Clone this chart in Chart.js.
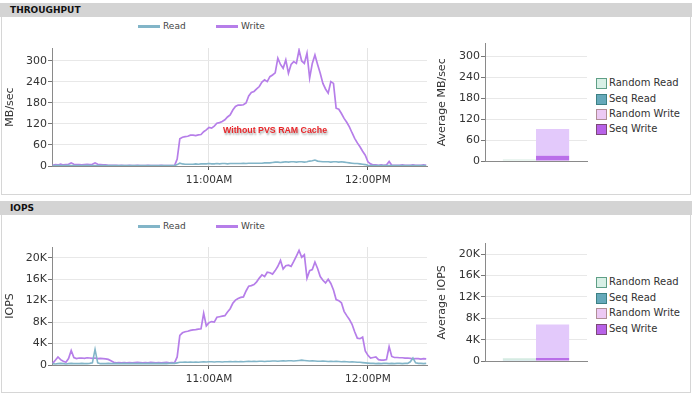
<!DOCTYPE html>
<html>
<head>
<meta charset="utf-8">
<script src="https://cdn.jsdelivr.net/npm/chart.js@4.4.1/dist/chart.umd.min.js"></script>
<style>
  body { margin:0; width:692px; height:399px; position:relative; overflow:hidden; background:#fff; font-family:'DejaVu Sans', sans-serif; }
  .panel { position:absolute; left:1px; width:688px; border:1px solid #d6d6d6; border-top:none; background:#fff; }
  .band { position:absolute; left:0; width:682px; height:14px; padding-left:10px; background:#d4d4d4; font-weight:bold; font-size:9px; line-height:15px; color:#111; }
  canvas { position:absolute; }
  .lg { position:absolute; font-size:9px; color:#444; white-space:nowrap; line-height:10px; }
  .sw { position:absolute; height:3px; width:22px; }
  .bl { position:absolute; font-size:10px; color:#333; white-space:nowrap; line-height:12px; }
  .bx { position:absolute; width:9px; height:9px; border:1px solid; }
  .note { position:absolute; left:223px; top:125px; font-family:'Liberation Sans', sans-serif; font-weight:bold; font-size:8.8px; color:#e8262a; text-shadow:1px 2px 2px rgba(0,0,0,0.35); white-space:nowrap; }
</style>
</head>
<body>
<div class="band" style="top:3px">THROUGHPUT</div>
<div class="panel" style="top:17px;height:177px"></div>
<div class="band" style="top:201px">IOPS</div>
<div class="panel" style="top:215px;height:177px"></div>

<canvas id="tpLine" width="432" height="160" style="left:0;top:36px"></canvas>
<canvas id="tpBar" width="158" height="160" style="left:432px;top:36px"></canvas>
<canvas id="ioLine" width="432" height="160" style="left:0;top:236px"></canvas>
<canvas id="ioBar" width="158" height="160" style="left:432px;top:236px"></canvas>
<div class="note">Without PVS RAM Cache</div>

<script>
// one sample per minute, first sample at 10:01
const firstMinute = 1;
const xMin = 0.75, xMax = 142.3;
const timeTicks = [60, 120];
const timeLabels = ['11:00AM', '12:00PM'];

const tpTicks = [0, 60, 120, 180, 240, 300];
const tpTickLabels = ['0', '60', '120', '180', '240', '300'];
const ioTicks = [0, 4000, 8000, 12000, 16000, 20000];
const ioTickLabels = ['0', '4K', '8K', '12K', '16K', '20K'];

const lineSeries = ['Read', 'Write'];
const lineColors = ['#82b5c8', '#b67ee9'];

const tpRead = [
  1,1,2,1,1,1,2,1,1,1, 1,1,1,2,1,1,1,1,1,1, 1,1,1,1,1,1,1,1,1,1,
  1,1,1,1,1,1,1,1,1,1, 1,1,1,1,1,1,1,
  4,8,6,
  5,5,5,5,6,5,
  6,6,6,7,6,6,7,6,7,7,6,7,7,7,
  7,7,8,7,8,8,8,8,8,8,9,9,9,10,
  11,11,10,11,12,11,12,12,11,12,12,11,
  12,14,15,17,14,13,12,12,
  12,11,12,12,11,12,11,10,9,8,7,
  7,6,5,4,2,1,1,
  1,1,1,1,1,1,1,1,1,1,1,1,1,1,1,1,1,1,1,1
];
const tpWrite = [
  2,4,3,5,3,4,5,9,5,4, 4,3,4,5,4,5,9,5,4,3,
  3,2,2,2,2,1,2,1,1,2, 1,1,2,1,1,1,2,1,1,1,
  1,2,1,1,1,1,1,
  20,78,82,
  84,85,88,88,87,89,90,98,103,110,
  108,114,122,124,127,132,140,146,160,170,
  174,174,175,180,200,210,213,220,227,240,
  246,241,255,260,266,308,290,279,303,265,
  290,298,293,331,300,293,322,251,293,317,
  290,265,236,220,208,241,236,165,162,150,
  136,125,112,95,79,66,55,42,31,12,
  6,3,3,2,3,2,3,13,2,2,
  2,2,3,2,2,2,3,2,2,2,3,2
];
const ioRead = [
  250,200,250,300,250,200,250,300,250,250, 250,300,250,250,300,400,2900,400,250,250,
  250,300,250,250,300,250,250,300,250,250, 300,250,250,300,250,250,300,250,300,250,
  300,250,300,250,300,300,300,
  400,500,500,550,500,550,500,550,500,550,600,550,600,
  600,550,600,600,550,600,600,650,600,650,600,650,600,650,700,650,700,650,700,700,650,700,700,750,
  750,700,750,800,750,800,800,750,800,850,900,850,800,750,800,750,
  700,700,750,700,650,700,650,700,650,600,650,600,550,600,550,500,500,450,
  400,350,300,300,250,300,250,300,300,250,300,250,300,300,250,300,300,600,1300,400,300,300,250,300
];
const ioWrite = [
  300,900,1500,1000,700,500,1200,2700,1400,1200,
  1300,1300,1250,1350,1300,1250,1300,1200,1250,1200,
  1150,1050,800,500,400,450,400,450,400,450,
  400,450,500,450,400,450,400,500,450,400,
  450,400,450,500,400,450,400,
  1500,5500,6000,
  6200,6300,6450,6550,6600,6700,6750,9650,7300,7900,
  8100,8000,8900,9000,9100,9200,9900,10500,11500,12100,
  12400,12600,12700,13800,14700,14800,15000,15500,16200,16800,
  16500,17300,17200,16950,17600,18400,19500,17900,18500,18600,
  18400,19300,20300,21350,20100,20550,16200,17600,17800,19200,
  18000,16500,15800,15300,16000,15200,14000,12200,12000,11600,
  10000,9200,8500,7600,6200,5000,4900,5200,2600,1800,
  1300,1400,1500,1000,900,900,1000,3400,1600,1400,
  1400,1350,1350,1300,1300,1250,1150,1200,1200,1100,1200,1150
];

// average bars
const barSeries = ['Random Read', 'Seq Read', 'Random Write', 'Seq Write'];
const barStacks = ['read', 'read', 'write', 'write'];
const barFill = ['#d5ebe2', '#8ec0d0', '#e3c9fb', '#b96ee9'];
const legendFill = ['#d8f0e6', '#66a9ba', '#ecc9f4', '#b862e8'];
const legendBorder = ['#5f9f86', '#3c8184', '#b08e96', '#7c4a78'];
const tpAvg = [2.5, 1.5, 77, 15];
const ioAvg = [350, 150, 6300, 550];
const stackOrder = [1, 0, 3, 2]; // bottom segment first

const font = { family: 'DejaVu Sans', size: 11 };

function points(values) {
  return values.map((v, i) => ({ x: firstMinute + i, y: v }));
}

function yScale(max, ticks, labels, title, width) {
  return {
    min: 0, max: max,
    afterBuildTicks: axis => { axis.ticks = ticks.map(v => ({ value: v })); },
    afterFit: scale => { scale.width = width; },
    ticks: { font: font, color: '#333', padding: 1,
      callback: v => labels[ticks.indexOf(v)] },
    grid: { color: '#e8e8e8', tickColor: '#777', tickLength: 4 },
    border: { color: '#8a8a8a' },
    title: { display: true, text: title, font: font, color: '#333' }
  };
}

function lineChart(id, read, write, max, ticks, labels, title, padTop, xHeight) {
  new Chart(document.getElementById(id), {
    type: 'line',
    data: {
      datasets: [
        { label: lineSeries[0], data: points(read), borderColor: lineColors[0], borderWidth: 1.6, pointRadius: 0, tension: 0 },
        { label: lineSeries[1], data: points(write), borderColor: lineColors[1], borderWidth: 1.7, pointRadius: 0, tension: 0 }
      ]
    },
    options: {
      responsive: false, animation: false, devicePixelRatio: 1,
      layout: { padding: { top: padTop, right: 5, left: 0, bottom: 0 } },
      plugins: { legend: { display: false }, tooltip: { enabled: false } },
      scales: {
        x: {
          type: 'linear', min: xMin, max: xMax,
          afterBuildTicks: axis => { axis.ticks = timeTicks.map(v => ({ value: v })); },
          afterFit: scale => { scale.height = xHeight; },
          ticks: { font: { family: 'DejaVu Sans', size: 10.5 }, color: '#333', padding: 4, maxRotation: 0,
            callback: v => timeLabels[timeTicks.indexOf(v)] },
          grid: { color: '#e4e4e4', tickColor: '#555', tickLength: 4 },
          border: { color: '#8a8a8a' }
        },
        y: yScale(max, ticks, labels, title, 52)
      }
    }
  });
}

function barChart(id, avg, max, ticks, labels, title, padTop, xHeight) {
  new Chart(document.getElementById(id), {
    type: 'bar',
    data: {
      labels: [''],
      datasets: stackOrder.map(k => ({
        label: barSeries[k], data: [avg[k]], stack: barStacks[k],
        backgroundColor: barFill[k], borderWidth: 0
      }))
    },
    options: {
      responsive: false, animation: false, devicePixelRatio: 1,
      categoryPercentage: 0.65, barPercentage: 1,
      layout: { padding: { top: padTop, right: 3, left: 0, bottom: 0 } },
      plugins: { legend: { display: false }, tooltip: { enabled: false } },
      scales: {
        x: {
          stacked: true,
          afterFit: scale => { scale.height = xHeight; },
          ticks: { display: false },
          grid: { display: false },
          border: { color: '#8a8a8a' }
        },
        y: Object.assign(yScale(max, ticks, labels, title, 53), { stacked: true })
      }
    }
  });
}

function lineLegend(top) {
  const left = [138, 216];
  lineSeries.forEach((name, i) => {
    const sw = document.createElement('div');
    sw.className = 'sw';
    sw.style.left = left[i] + 'px';
    sw.style.top = (top - 1) + 'px';
    sw.style.background = lineColors[i];
    document.body.appendChild(sw);
    const t = document.createElement('div');
    t.className = 'lg';
    t.style.left = (left[i] + 25) + 'px';
    t.style.top = (top - 5) + 'px';
    t.textContent = name;
    document.body.appendChild(t);
  });
}

function barLegend(rows) {
  barSeries.forEach((name, i) => {
    const b = document.createElement('div');
    b.className = 'bx';
    b.style.left = '596px';
    b.style.top = (rows[i] - 5) + 'px';
    b.style.background = legendFill[i];
    b.style.borderColor = legendBorder[i];
    document.body.appendChild(b);
    const t = document.createElement('div');
    t.className = 'bl';
    t.style.left = '609px';
    t.style.top = (rows[i] - 6) + 'px';
    t.textContent = name;
    document.body.appendChild(t);
  });
}

lineChart('tpLine', tpRead, tpWrite, 337, tpTicks, tpTickLabels, 'MB/sec', 12, 30);
barChart('tpBar', tpAvg, 337, tpTicks, tpTickLabels, 'Average MB/sec', 7, 35);
lineChart('ioLine', ioRead, ioWrite, 22000, ioTicks, ioTickLabels, 'IOPS', 11, 31);
barChart('ioBar', ioAvg, 22000, ioTicks, ioTickLabels, 'Average IOPS', 7, 35);

lineLegend(26);
lineLegend(226);
barLegend([83, 99, 114, 129]);
barLegend([282, 298, 313, 329]);
</script>
</body>
</html>
